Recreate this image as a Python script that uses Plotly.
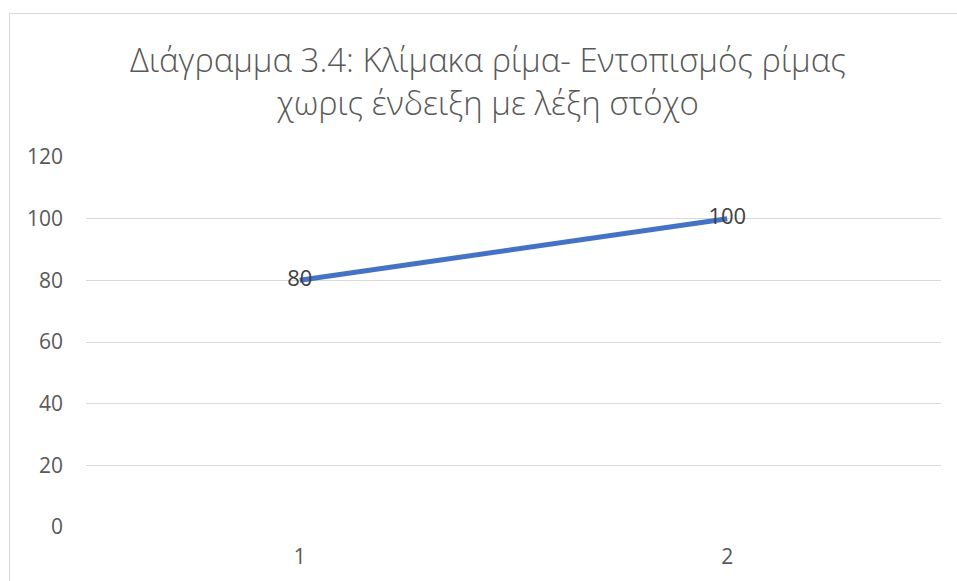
import plotly.graph_objects as go

# Chart data
categories = ["1", "2"]
values = [80, 100]
y_ticks = [0, 20, 40, 60, 80, 100, 120]
title_lines = ["Διάγραμμα 3.4: Κλίμακα ρίμα- Εντοπισμός ρίμας",
               "χωρις ένδειξη με λέξη στόχο"]

FONT = "Open Sans, sans-serif"
W, H = 957, 581
ML, MR, MT, MB = 86, 16, 157, 54
pw, ph = W - ML - MR, H - MT - MB

fig = go.Figure()
fig.add_trace(go.Scatter(
    x=categories, y=values,
    mode="lines+text",
    text=[str(v) for v in values],
    textposition="middle center",
    textfont=dict(family=FONT, size=22, color="#404040"),
    line=dict(color="#4472C4", width=5),
    cliponaxis=False,
    hoverinfo="skip",
))

# Outer chart frame (extends beyond the visible page on the right and bottom)
def px_x(v):
    return (v - ML) / pw

def px_y(v):
    return 1 - (v - MT) / ph

fig.add_shape(type="rect", xref="paper", yref="paper",
              x0=px_x(9.5), x1=px_x(W + 20), y0=px_y(H + 20), y1=px_y(13.5),
              line=dict(color="#D9D9D9", width=1), fillcolor="rgba(0,0,0,0)",
              layer="below")

fig.update_layout(
    width=W, height=H,
    margin=dict(l=ML, r=MR, t=MT, b=MB),
    paper_bgcolor="white", plot_bgcolor="white",
    showlegend=False,
    title=dict(
        text="<br>".join(title_lines),
        x=px_x(488), xanchor="center", xref="paper",
        y=1 - 72 / H, yanchor="top",
        font=dict(family=FONT, size=33, color="#595959", weight=300),
    ),
    xaxis=dict(
        type="category",
        range=[-0.5, 1.5],
        showgrid=False, zeroline=False, showline=False,
        ticks="", ticklabelstandoff=15,
        tickfont=dict(family=FONT, size=21, color="#595959"),
    ),
    yaxis=dict(
        range=[0, 120],
        tickvals=y_ticks,
        showgrid=True, gridcolor="#D9D9D9", gridwidth=1.3,
        zeroline=False, showline=False,
        ticks="", ticklabelstandoff=22,
        tickfont=dict(family=FONT, size=21, color="#595959"),
    ),
)

fig.write_html("out.html")
